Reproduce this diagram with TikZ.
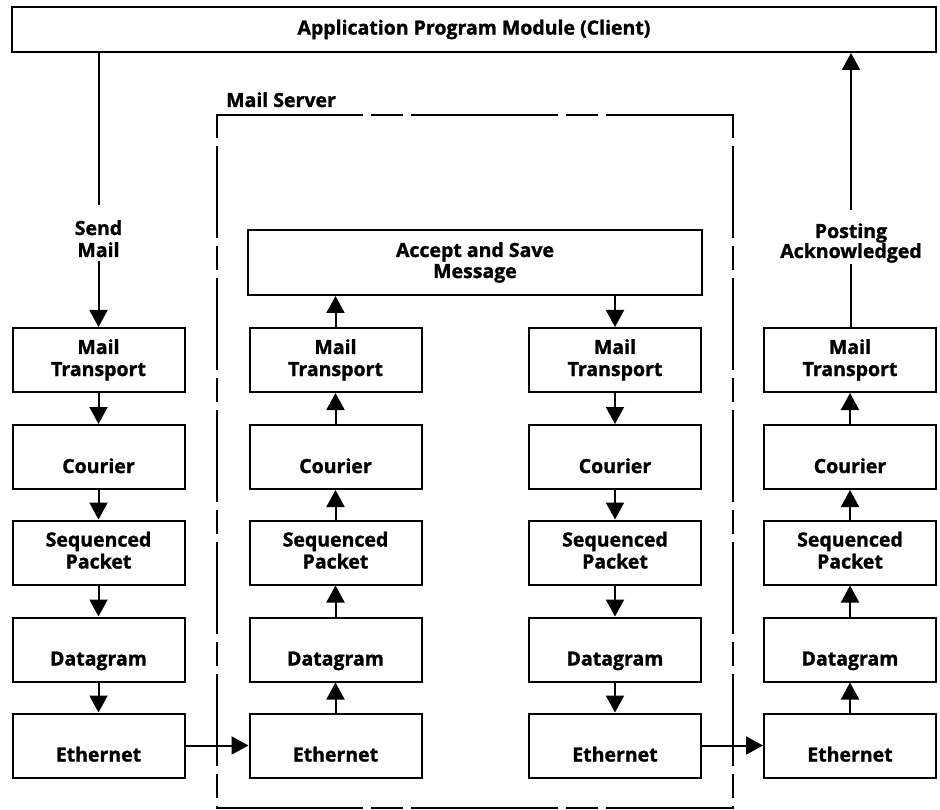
\documentclass[tikz,border=0pt]{standalone}
\usepackage{fontspec}
\setmainfont{Open Sans}[BoldFeatures={FakeBold=1.3}]
\usetikzlibrary{arrows.meta}
\newcommand{\layerbox}[5]{%
  \node[box] (#1) at (#2,#3) {};
  \node[lbl] (#1-a) at ([yshift=-27pt]#1.north) {#4};
  \node[lbl] (#1-b) at ([yshift=-49pt]#1.north) {#5};}
\begin{document}
\begin{tikzpicture}[x=1pt,y=-1pt,
  box/.style={draw, line width=2pt, minimum width=172pt, minimum height=64pt, inner sep=0pt},
  lbl/.style={anchor=base, inner sep=0pt, font=\fontsize{19.5}{22}\selectfont\bfseries},
  arr/.style={line width=2pt, -{Triangle[length=17pt,width=18pt]}},
  ln/.style={line width=2pt},
  edgeh/.style={line width=2pt, line cap=rect, dash pattern=on 145pt off 10pt on 30pt off 10pt},
  edgev/.style={line width=2pt, line cap=rect, dash pattern=on 22pt off 10pt on 90pt off 10pt}]
\useasboundingbox (0,0) rectangle (940,810);

% top module
\node[box, minimum width=924pt, minimum height=45pt, font=\fontsize{19.5}{22}\selectfont\bfseries] (app) at (474,29.5) {Application Program Module (Client)};

% mail server frame
\coordinate (ms-nw) at (217,115);
\coordinate (ms-ne) at (733,115);
\coordinate (ms-se) at (733,808);
\coordinate (ms-sw) at (217,808);
\draw[edgeh] (ms-nw) -- (ms-ne);
\draw[edgeh] (ms-sw) -- (ms-se);
\draw[edgev] (ms-nw) -- (ms-sw);
\draw[edgev] (ms-ne) -- (ms-se);
\node[lbl, anchor=base west] (mslbl) at (226,107) {Mail Server};

% accept box
\node[box, minimum width=454pt, minimum height=65pt] (acc) at (475,262.5) {};
\node[lbl] (acc-a) at ([yshift=-28pt]acc.north) {Accept and Save};
\node[lbl] (acc-b) at ([yshift=-49pt]acc.north) {Message};

% columns
\layerbox{mt1}{98.5}{360}{Mail}{Transport}
\layerbox{co1}{98.5}{457}{}{Courier}
\layerbox{sp1}{98.5}{552.5}{Sequenced}{Packet}
\layerbox{dg1}{98.5}{649.5}{}{Datagram}
\layerbox{et1}{98.5}{745.5}{}{Ethernet}

\layerbox{mt2}{335.5}{360}{Mail}{Transport}
\layerbox{co2}{335.5}{457}{}{Courier}
\layerbox{sp2}{335.5}{552.5}{Sequenced}{Packet}
\layerbox{dg2}{335.5}{649.5}{}{Datagram}
\layerbox{et2}{335.5}{745.5}{}{Ethernet}

\layerbox{mt3}{615}{360}{Mail}{Transport}
\layerbox{co3}{615}{457}{}{Courier}
\layerbox{sp3}{615}{552.5}{Sequenced}{Packet}
\layerbox{dg3}{615}{649.5}{}{Datagram}
\layerbox{et3}{615}{745.5}{}{Ethernet}

\layerbox{mt4}{850}{360}{Mail}{Transport}
\layerbox{co4}{850}{457}{}{Courier}
\layerbox{sp4}{850}{552.5}{Sequenced}{Packet}
\layerbox{dg4}{850}{649.5}{}{Datagram}
\layerbox{et4}{850}{745.5}{}{Ethernet}

% send mail
\node[lbl] (send-a) at (98.5,235) {Send};
\node[lbl] (send-b) at (98.5,257) {Mail};
\coordinate (s-top) at (98.5,205);
\coordinate (s-bot) at (98.5,261);
\draw[ln] (app.south -| s-top) -- (s-top);
\draw[arr] (s-bot) -- (mt1.north);

% posting acknowledged
\node[lbl] (post-a) at (851,238) {Posting};
\node[lbl] (post-b) at (851,258) {Acknowledged};
\coordinate (p-top) at (851,210);
\coordinate (p-bot) at (851,264);
\draw[ln] (mt4.north -| p-bot) -- (p-bot);
\draw[arr] (p-top) -- (app.south -| p-top);

% column 1 down
\draw[arr] (mt1.south) -- (co1.north);
\draw[arr] (co1.south) -- (sp1.north);
\draw[arr] (sp1.south) -- (dg1.north);
\draw[arr] (dg1.south) -- (et1.north);
% across
\draw[arr] (et1.east) -- (et2.west);
\draw[arr] (et3.east) -- (et4.west);
% column 2 up
\draw[arr] (et2.north) -- (dg2.south);
\draw[arr] (dg2.north) -- (sp2.south);
\draw[arr] (sp2.north) -- (co2.south);
\draw[arr] (co2.north) -- (mt2.south);
\draw[arr] (mt2.north) -- (mt2.north |- acc.south);
% column 3 down
\draw[arr] (mt3.north |- acc.south) -- (mt3.north);
\draw[arr] (mt3.south) -- (co3.north);
\draw[arr] (co3.south) -- (sp3.north);
\draw[arr] (sp3.south) -- (dg3.north);
\draw[arr] (dg3.south) -- (et3.north);
% column 4 up
\draw[arr] (et4.north) -- (dg4.south);
\draw[arr] (dg4.north) -- (sp4.south);
\draw[arr] (sp4.north) -- (co4.south);
\draw[arr] (co4.north) -- (mt4.south);
\end{tikzpicture}
\end{document}
